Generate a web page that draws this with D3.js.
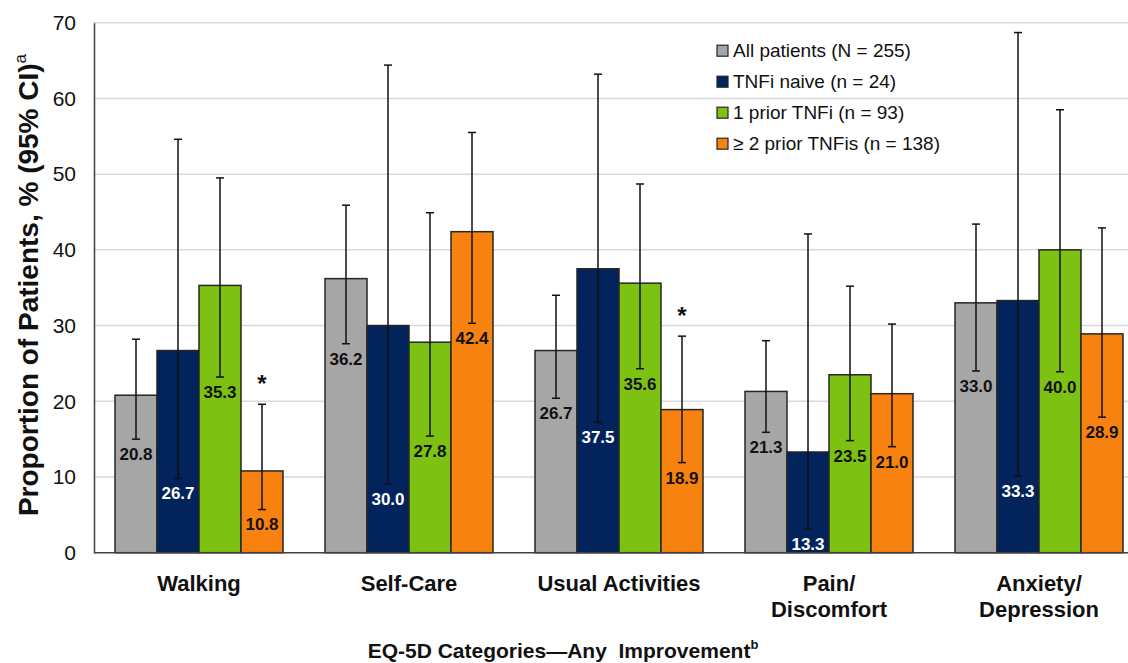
<!DOCTYPE html>
<html>
<head>
<meta charset="utf-8">
<script src="https://cdn.jsdelivr.net/npm/d3@7"></script>
<style>
  html, body { margin: 0; padding: 0; background: #fff; }
  svg { display: block; font-family: Arial, "Liberation Sans", sans-serif; }
</style>
</head>
<body>
<svg id="chart" width="1128" height="663"></svg>
<script>
// ---- data ----
const categories = ["Walking", "Self-Care", "Usual Activities", "Pain/Discomfort", "Anxiety/Depression"];
const seriesNames = ["All patients (N = 255)", "TNFi naive (n = 24)", "1 prior TNFi (n = 93)", "\u2265 2 prior TNFis (n = 138)"];
const allPatients = [20.8, 36.2, 26.7, 21.3, 33.0];
const tnfiNaive = [26.7, 30.0, 37.5, 13.3, 33.3];
const onePrior = [35.3, 27.8, 35.6, 23.5, 40.0];
const twoPlusPrior = [10.8, 42.4, 18.9, 21.0, 28.9];
const allLower = [15.0, 27.6, 20.4, 15.9, 24.0];
const allUpper = [28.2, 45.9, 34.0, 28.0, 43.4];
const naiveLower = [9.8, 9.1, 17.2, 3.1, 10.1];
const naiveUpper = [54.6, 64.4, 63.2, 42.1, 68.7];
const oneLower = [23.2, 15.4, 24.3, 14.8, 23.9];
const oneUpper = [49.5, 44.9, 48.7, 35.2, 58.5];
const twoLower = [5.7, 30.3, 11.9, 14.0, 17.9];
const twoUpper = [19.6, 55.5, 28.6, 30.2, 42.9];
const twoPlusSignificant = [true, false, true, false, false];
const yTicks = [0, 10, 20, 30, 40, 50, 60, 70];

// ---- styles ----
const colors = ["#A6A6A6", "#03235C", "#7DC213", "#F7820F"];
const labelColors = ["#111", "#fff", "#111", "#111"];

const values = [allPatients, tnfiNaive, onePrior, twoPlusPrior];
const lowers = [allLower, naiveLower, oneLower, twoLower];
const uppers = [allUpper, naiveUpper, oneUpper, twoUpper];

const rows = [];
categories.forEach((c, ci) => {
  seriesNames.forEach((s, si) => {
    rows.push({cat: c, si, v: values[si][ci], lo: lowers[si][ci], hi: uppers[si][ci],
      sig: si === 3 && twoPlusSignificant[ci]});
  });
});

const svg = d3.select("#chart");
const mLeft = 94, mRight = 1144, mTop = 22.7, mBottom = 552.7;

const x = d3.scaleBand().domain(categories).range([mLeft, mRight]).paddingInner(0.2).paddingOuter(0.1);
const xs = d3.scaleBand().domain(d3.range(seriesNames.length)).range([0, x.bandwidth()]).padding(0);
const y = d3.scaleLinear().domain([0, 70]).range([mBottom, mTop]);

// gridlines
svg.append("g").selectAll("line").data(yTicks.filter(t => t > 0)).join("line")
  .attr("x1", mLeft).attr("x2", 1128)
  .attr("y1", d => y(d)).attr("y2", d => y(d))
  .attr("stroke", "#D9D9D9").attr("stroke-width", 1.5);

// y axis
const yAxis = svg.append("g").attr("transform", `translate(${mLeft},0)`)
  .call(d3.axisLeft(y).tickValues(yTicks).tickSize(0).tickPadding(18));
yAxis.select(".domain").attr("stroke", "#404040").attr("stroke-width", 1.5);
yAxis.selectAll("text").attr("font-size", 21).attr("fill", "#111").attr("font-family", "Arial, 'Liberation Sans', sans-serif");

// bars
const g = svg.append("g");
g.selectAll("rect").data(rows).join("rect")
  .attr("x", d => x(d.cat) + xs(d.si))
  .attr("y", d => y(d.v))
  .attr("width", xs.bandwidth())
  .attr("height", d => y(0) - y(d.v))
  .attr("fill", d => colors[d.si])
  .attr("stroke", "#262626").attr("stroke-width", 1.5);

// x axis line
svg.append("line").attr("x1", mLeft).attr("x2", 1128).attr("y1", mBottom).attr("y2", mBottom)
  .attr("stroke", "#404040").attr("stroke-width", 1.5);

// error bars
const capW = 4;
const eb = svg.append("g").attr("stroke", "#111").attr("stroke-width", 1.5);
rows.forEach(d => {
  const cx = x(d.cat) + xs(d.si) + xs.bandwidth() / 2;
  eb.append("line").attr("x1", cx).attr("x2", cx).attr("y1", y(d.lo)).attr("y2", y(d.hi));
  eb.append("line").attr("x1", cx - capW).attr("x2", cx + capW).attr("y1", y(d.lo)).attr("y2", y(d.lo));
  eb.append("line").attr("x1", cx - capW).attr("x2", cx + capW).attr("y1", y(d.hi)).attr("y2", y(d.hi));
});

// data labels
svg.append("g").selectAll("text").data(rows).join("text")
  .attr("x", d => x(d.cat) + xs(d.si) + xs.bandwidth() / 2)
  .attr("y", d => y(d.lo) + 15)
  .attr("dy", "0.35em")
  .attr("text-anchor", "middle")
  .attr("font-size", 17).attr("font-weight", "bold")
  .attr("fill", d => labelColors[d.si])
  .text(d => d.v.toFixed(1));

// significance asterisks
svg.append("g").selectAll("text").data(rows.filter(d => d.sig)).join("text")
  .attr("x", d => x(d.cat) + xs(d.si) + xs.bandwidth() / 2)
  .attr("y", d => y(d.hi) - 12)
  .attr("text-anchor", "middle")
  .attr("font-size", 24).attr("font-weight", "bold").attr("fill", "#111")
  .text("*");

// category labels
const catG = svg.append("g");
categories.forEach(c => {
  const parts = c.includes("/") ? [c.split("/")[0] + "/", c.split("/")[1]] : [c];
  const t = catG.append("text").attr("x", x(c) + x.bandwidth() / 2).attr("y", 591)
    .attr("text-anchor", "middle").attr("font-size", 22).attr("font-weight", "bold").attr("fill", "#111");
  parts.forEach((p, i) => t.append("tspan").attr("x", x(c) + x.bandwidth() / 2).attr("dy", i === 0 ? 0 : 26).text(p));
});

// x title
const xt = svg.append("text").attr("x", 563).attr("y", 658).attr("text-anchor", "middle")
  .attr("font-size", 21).attr("font-weight", "bold").attr("fill", "#111");
xt.append("tspan").text("EQ-5D Categories\u2014Any\u00a0 Improvement");
xt.append("tspan").attr("font-size", 13).attr("dy", -9).text("b");

// y title
const yt = svg.append("text").attr("transform", "translate(38,285) rotate(-90)").attr("text-anchor", "middle")
  .attr("font-size", 28).attr("font-weight", "bold").attr("fill", "#111");
yt.append("tspan").text("Proportion of Patients, % (95% CI)");
yt.append("tspan").attr("font-size", 17).attr("dy", -12).attr("font-weight", "normal").text("a");

// legend
const legend = svg.append("g");
seriesNames.forEach((s, i) => {
  const ly = 50.7 + i * 31;
  legend.append("rect").attr("x", 717).attr("y", ly - 5.5).attr("width", 11).attr("height", 11)
    .attr("fill", colors[i]).attr("stroke", "#262626").attr("stroke-width", 1.2);
  legend.append("text").attr("x", 733).attr("y", ly).attr("dy", "0.35em")
    .attr("font-size", 19).attr("fill", "#111").text(s);
});
</script>
</body>
</html>
